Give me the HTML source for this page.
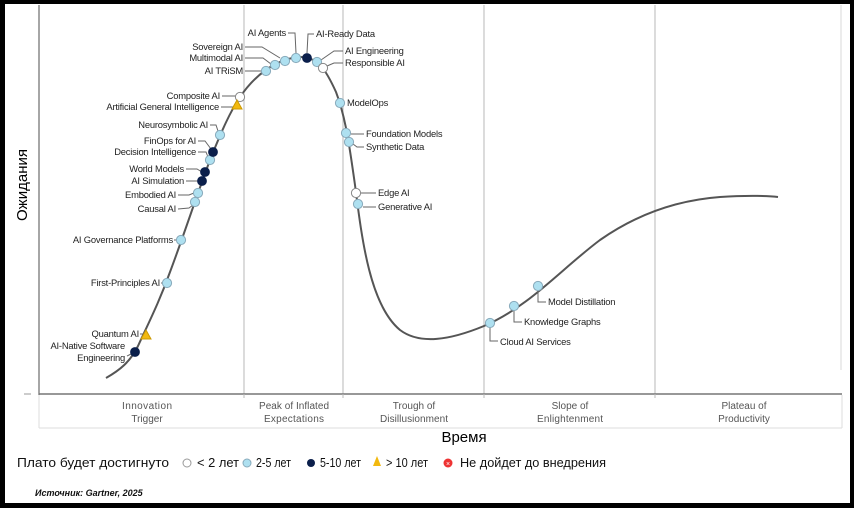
<!DOCTYPE html>
<html><head><meta charset="utf-8"><style>
html,body{margin:0;padding:0;background:#000;}
svg{display:block;}
text{font-family:"Liberation Sans",sans-serif;}
</style></head><body>
<svg width="854" height="508" viewBox="0 0 854 508" xmlns="http://www.w3.org/2000/svg">
<rect x="0" y="0" width="854" height="508" fill="#000"/>
<rect x="5" y="4" width="845" height="499" fill="#fff"/>
<g stroke="#c8c8c8" stroke-width="1.3">
<line x1="244" y1="5" x2="244" y2="395"/>
<line x1="343" y1="5" x2="343" y2="395"/>
<line x1="484" y1="5" x2="484" y2="395"/>
<line x1="655" y1="5" x2="655" y2="395"/>
<line x1="841" y1="5" x2="841" y2="370" stroke="#e2e2e2"/>
</g>
<line x1="39" y1="5" x2="39" y2="395" stroke="#777" stroke-width="1.3"/>
<line x1="39" y1="394" x2="842" y2="394" stroke="#777" stroke-width="1.5"/>
<line x1="24" y1="394" x2="31" y2="394" stroke="#999" stroke-width="1"/>
<g stroke="#ddd" stroke-width="1" fill="none">
<line x1="39" y1="395" x2="39" y2="428"/>
<line x1="842" y1="395" x2="842" y2="428"/>
<line x1="39" y1="428" x2="842" y2="428"/>
<line x1="244" y1="394" x2="244" y2="398" stroke="#bbb"/>
<line x1="343" y1="394" x2="343" y2="398" stroke="#bbb"/>
<line x1="484" y1="394" x2="484" y2="398" stroke="#bbb"/>
<line x1="655" y1="394" x2="655" y2="398" stroke="#bbb"/>
</g>
<g font-size="10" fill="#555" text-anchor="middle">
<text x="147" y="409" textLength="50">Innovation</text><text x="147" y="422">Trigger</text>
<text x="294" y="409" textLength="70">Peak of Inflated</text><text x="294" y="422" textLength="60">Expectations</text>
<text x="414" y="409">Trough of</text><text x="414" y="422" textLength="68">Disillusionment</text>
<text x="570" y="409">Slope of</text><text x="570" y="422" textLength="66">Enlightenment</text>
<text x="744" y="409">Plateau of</text><text x="744" y="422">Productivity</text>
</g>
<text x="464" y="442" font-size="15" text-anchor="middle" fill="#000">Время</text>
<text transform="translate(27,185) rotate(-90)" font-size="15" text-anchor="middle" fill="#000">Ожидания</text>
<path d="M106,378 C120,370 130,362 138,346 C150,320 160,300 170,272 C185,232 195,200 210,160 C222,130 230,112 240,97 C255,75 275,60 298,57 C318,56 326,70 336,92 C346,118 350,150 355,185 C362,240 370,305 400,330 C420,345 450,340 484,326 C530,306 560,270 600,240 C640,212 680,200 720,197 C750,195 770,196 778,197" fill="none" stroke="#555" stroke-width="2"/>
<g stroke="#666" stroke-width="1" fill="none">
<line x1="127" y1="356" x2="131" y2="354"/>
<line x1="140" y1="334" x2="143" y2="334"/>
<line x1="161" y1="283" x2="162" y2="283"/>
<line x1="174" y1="240" x2="176" y2="240"/>
<polyline points="178,209 189,208 193,205"/>
<polyline points="178,195 189,195 194,193"/>
<polyline points="186,181 198,181"/>
<polyline points="186,169 197,169 202,172"/>
<polyline points="198,152 206,152 208,157"/>
<polyline points="198,141 205,141 211,149"/>
<polyline points="210,125 216,125 218,131"/>
<polyline points="221,107 233,107"/>
<polyline points="222,96 236,96"/>
<polyline points="245,71 261,71"/>
<polyline points="245,58 263,58 271,64"/>
<polyline points="245,47 262,47 280,58"/>
<polyline points="288,33 295,33 296,53"/>
<polyline points="314,34 308,34 307,53"/>
<polyline points="343,51 334,51 321,60"/>
<polyline points="343,63 334,63 327,66"/>
<polyline points="364,134 351,134"/>
<polyline points="364,147 357,147 353,144"/>
<polyline points="376,193 361,193"/>
<polyline points="376,207 363,207"/>
<polyline points="490,328 490,341 498,341"/>
<polyline points="514,311 514,322 522,322"/>
<polyline points="538,291 538,302 546,302"/>
</g>
<g stroke="#8ab" stroke-width="1">
<g fill="#aee0f0">
<circle cx="167" cy="283" r="4.6"/><circle cx="181" cy="240" r="4.6"/>
<circle cx="195" cy="202" r="4.6"/><circle cx="198" cy="193" r="4.6"/>
<circle cx="210" cy="160" r="4.6"/><circle cx="220" cy="135" r="4.6"/>
<circle cx="266" cy="71" r="4.6"/><circle cx="275" cy="65" r="4.6"/>
<circle cx="285" cy="61" r="4.6"/><circle cx="296" cy="58" r="4.6"/>
<circle cx="317" cy="62" r="4.6"/><circle cx="340" cy="103" r="4.6"/>
<circle cx="346" cy="133" r="4.6"/><circle cx="349" cy="142" r="4.6"/>
<circle cx="358" cy="204" r="4.6"/><circle cx="490" cy="323" r="4.6"/>
<circle cx="514" cy="306" r="4.6"/><circle cx="538" cy="286" r="4.6"/>
</g>
<g fill="#fff" stroke="#888">
<circle cx="240" cy="97" r="4.6"/><circle cx="323" cy="68" r="4.6"/><circle cx="356" cy="193" r="4.6"/>
</g>
<g fill="#0b1f4b" stroke="#0b1f4b">
<circle cx="135" cy="352" r="4.4"/><circle cx="202" cy="181" r="4.4"/>
<circle cx="205" cy="172" r="4.4"/><circle cx="213" cy="152" r="4.4"/>
<circle cx="307" cy="58" r="4.4"/>
</g>
<g fill="#f2b90f" stroke="#c90">
<polygon points="146,330 151,339 141,339"/>
<polygon points="237,100 242,109 232,109"/>
</g>
</g>
<g font-size="9.4" fill="#222" style="letter-spacing:-0.2px">
<g text-anchor="end">
<text x="125" y="349">AI-Native Software</text><text x="125" y="361">Engineering</text>
<text x="139" y="337">Quantum AI</text>
<text x="160" y="286">First-Principles AI</text>
<text x="173" y="243">AI Governance Platforms</text>
<text x="176" y="212">Causal AI</text>
<text x="176" y="198">Embodied AI</text>
<text x="184" y="184">AI Simulation</text>
<text x="184" y="172">World Models</text>
<text x="196" y="155">Decision Intelligence</text>
<text x="196" y="144">FinOps for AI</text>
<text x="208" y="128">Neurosymbolic AI</text>
<text x="219" y="110">Artificial General Intelligence</text>
<text x="220" y="99">Composite AI</text>
<text x="243" y="74">AI TRiSM</text>
<text x="243" y="61">Multimodal AI</text>
<text x="243" y="50">Sovereign AI</text>
<text x="286" y="36">AI Agents</text>
</g>
<text x="316" y="37">AI-Ready Data</text>
<text x="345" y="54">AI Engineering</text>
<text x="345" y="66">Responsible AI</text>
<text x="347" y="106">ModelOps</text>
<text x="366" y="137">Foundation Models</text>
<text x="366" y="150">Synthetic Data</text>
<text x="378" y="196">Edge AI</text>
<text x="378" y="210">Generative AI</text>
<text x="500" y="345">Cloud AI Services</text>
<text x="524" y="325">Knowledge Graphs</text>
<text x="548" y="305">Model Distillation</text>
</g>
<g font-size="13" fill="#111">
<text x="17" y="467" textLength="152" lengthAdjust="spacingAndGlyphs">Плато будет достигнуто</text>
<circle cx="187" cy="463" r="4" fill="#fff" stroke="#999"/>
<text x="197" y="467" textLength="42" lengthAdjust="spacingAndGlyphs">&lt; 2 лет</text>
<circle cx="247" cy="463" r="4" fill="#aee0f0" stroke="#8ab"/>
<text x="256" y="467" textLength="35" lengthAdjust="spacingAndGlyphs">2-5 лет</text>
<circle cx="311" cy="463" r="4" fill="#0b1f4b"/>
<text x="320" y="467" textLength="41" lengthAdjust="spacingAndGlyphs">5-10 лет</text>
<polygon points="377,456 381,466 373,466" fill="#f2b90f"/>
<text x="386" y="467" textLength="42" lengthAdjust="spacingAndGlyphs">&gt; 10 лет</text>
<circle cx="448" cy="463" r="4.5" fill="#e33"/>
<text x="448" y="466" font-size="7" fill="#fff" text-anchor="middle">×</text>
<text x="460" y="467" textLength="146" lengthAdjust="spacingAndGlyphs">Не дойдет до внедрения</text>
</g>
<text x="35" y="496" font-size="9" font-weight="bold" font-style="italic" fill="#111">Источник: Gartner, 2025</text>
</svg>
</body></html>
